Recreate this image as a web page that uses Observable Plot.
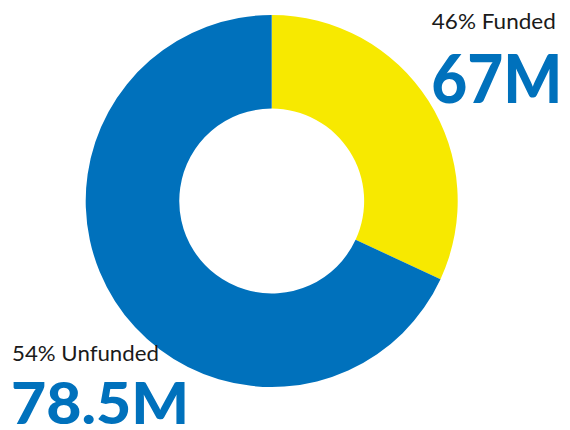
<!DOCTYPE html>
<html>
<head>
<meta charset="utf-8">
<script src="https://cdn.jsdelivr.net/npm/d3@7"></script>
<script src="https://cdn.jsdelivr.net/npm/@observablehq/plot@0.6"></script>
<style>
  html, body { margin: 0; padding: 0; background: #fff; }
</style>
</head>
<body>
<div id="chart"></div>
<script>
// Data
const categories = ["Funded", "Unfunded"];
const drawnShare = [31.9, 68.1];          // share of the ring as drawn
const percentLabels = ["46%", "54%"];
const amountLabels = ["67M", "78.5M"];
const sliceColors = ["#F7E900", "#0071BC"];

const innerRatio = 0.497;

const slices = categories.map((c, i) => ({category: c, share: drawnShare[i], color: sliceColors[i]}));

const labels = [
  {text: `${percentLabels[0]} ${categories[0]}`, x: 0.858, y: 1.012, size: 22, weight: 400, fill: "#1a1a1a", len: 124},
  {text: amountLabels[0], x: 0.855, y: 0.784, size: 66, weight: 900, fill: "#0071BC", len: 131},
  {text: `${percentLabels[1]} ${categories[1]}`, x: -1.399, y: -0.772, size: 22, weight: 400, fill: "#1a1a1a", len: 147},
  {text: amountLabels[1], x: -1.404, y: -0.98, size: 57, weight: 900, fill: "#0071BC", len: 178}
];

const donut = (index, scales) => {
  const cx = scales.x(0), cy = scales.y(0);
  const r = scales.x(1) - scales.x(0);
  const pie = d3.pie().sort(null).value(d => d.share)(slices);
  const arc = d3.arc().outerRadius(r).innerRadius(r * innerRatio);
  const g = d3.create("svg:g").attr("transform", `translate(${cx},${cy})`);
  g.selectAll("path").data(pie).join("path")
    .attr("d", arc)
    .attr("fill", d => d.data.color);
  return g.node();
};

const chart = Plot.plot({
  width: 570,
  height: 430,
  margin: 0,
  x: {domain: [-271.7 / 186, (570 - 271.7) / 186], axis: null},
  y: {domain: [-(430 - 201) / 186, 201 / 186], axis: null},
  style: {fontFamily: "Lato, sans-serif", background: "#fff", overflow: "visible"},
  marks: [
    donut,
    ...labels.map((l, i) => Plot.text([l], {
      x: "x", y: "y", text: "text",
      textAnchor: "start", lineAnchor: "top",
      fontSize: l.size, fontWeight: l.weight, fill: l.fill,
      fontFamily: "Lato, sans-serif",
      className: "lbl-" + i
    }))
  ]
});
labels.forEach((l, i) => {
  chart.querySelectorAll(`.lbl-${i} text`).forEach(t => {
    t.setAttribute("textLength", l.len);
    t.setAttribute("lengthAdjust", "spacingAndGlyphs");
  });
});
document.getElementById("chart").append(chart);
</script>
</body>
</html>
